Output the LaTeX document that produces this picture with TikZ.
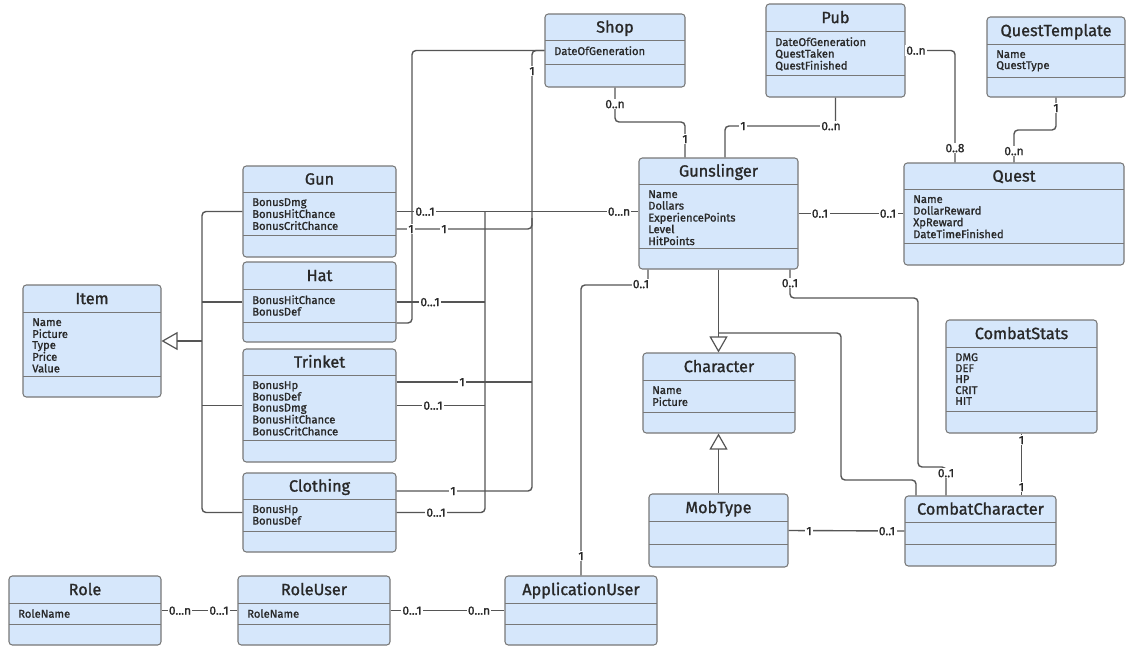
\documentclass[tikz,border=0pt]{standalone}
\usepackage{fontspec}
\setmainfont{Fira Sans}[FakeBold=1.2]
\usetikzlibrary{arrows.meta,fit}

\definecolor{boxfill}{RGB}{214,231,251}
\definecolor{boxline}{RGB}{120,120,120}
\definecolor{wire}{RGB}{85,85,85}
\definecolor{ink}{RGB}{40,40,40}

\tikzset{
  classbox/.style={draw=boxline, fill=boxfill, line width=0.8pt, rounded corners=2.5pt, inner sep=0pt},
  sepline/.style={draw=boxline, line width=0.7pt},
  classtitle/.style={text=ink, font=\fontsize{12.2}{13}\selectfont, inner sep=0pt, text height=8.4pt, text depth=0pt},
  attrtext/.style={text=ink, font=\fontsize{8.4}{8}\selectfont, inner sep=0pt, anchor=north west},
  conn/.style={draw=wire, line width=1.05pt, rounded corners=3pt},
  mult/.style={fill=white, text=ink, font=\fontsize{9}{9}\selectfont, inner sep=1pt, text height=6.2pt, text depth=0pt},
  genarrow/.style={-{Triangle[open, length=12pt, width=13.5pt, line width=0.9pt]}},
}

% \umlclass{name}{left}{top}{right}{title rule}{attribute rule}{bottom}{title}{attributes}
\newcommand{\umlclass}[9]{%
  \node[classbox, fit={(#2,#3) (#4,#7)}] (#1) {};
  \draw[sepline] (#2,#5) -- (#4,#5);
  \draw[sepline] (#2,#6) -- (#4,#6);
  \node[classtitle] (#1-title) at ({(#2+#4)/2},{(#3+#5)/2}) {#8};
  \node[attrtext] (#1-attrs) at ({#2+9},{#5+6}) {\begin{tabular}{@{}l@{}}#9\end{tabular}};
}

\begin{document}
\begin{tikzpicture}[x=0.75pt,y=-0.75pt]
\useasboundingbox (0,0) rectangle (1127,646);
\fill[white] (0,0) rectangle (1127,646);

% ---------- classes ----------
\umlclass{shop}{545}{14}{685}{40}{64}{87}{Shop}{DateOfGeneration}
\umlclass{pub}{766}{4}{905}{31}{75}{97}{Pub}{DateOfGeneration\\QuestTaken\\QuestFinished}
\umlclass{questtemplate}{987}{17}{1125}{44}{77}{97}{QuestTemplate}{Name\\QuestType}
\umlclass{gun}{243}{166}{396}{192}{235}{257}{Gun}{BonusDmg\\BonusHitChance\\BonusCritChance}
\umlclass{hat}{243}{262}{396}{289}{322}{342}{Hat}{BonusHitChance\\BonusDef}
\umlclass{item}{23}{285}{161}{312}{376}{397}{Item}{Name\\Picture\\Type\\Price\\Value}
\umlclass{trinket}{243}{349}{396}{375}{440}{462}{Trinket}{BonusHp\\BonusDef\\BonusDmg\\BonusHitChance\\BonusCritChance}
\umlclass{clothing}{243}{473}{396}{499}{531}{552}{Clothing}{BonusHp\\BonusDef}
\umlclass{role}{9}{576}{161}{603}{624}{645}{Role}{RoleName}
\umlclass{roleuser}{238}{576}{390}{603}{624}{645}{RoleUser}{RoleName}
\umlclass{appuser}{505}{576}{657}{603}{624}{645}{ApplicationUser}{}
\umlclass{gunslinger}{639}{158}{798}{184}{248}{269}{Gunslinger}{Name\\Dollars\\ExperiencePoints\\Level\\HitPoints}
\umlclass{quest}{904}{163}{1124}{189}{243}{265}{Quest}{Name\\DollarReward\\XpReward\\DateTimeFinished}
\umlclass{character}{643}{353}{795}{380}{412}{433}{Character}{Name\\Picture}
\umlclass{mobtype}{649}{494}{788}{521}{544}{567}{MobType}{}
\umlclass{combatchar}{905}{496}{1056}{522}{544}{566}{CombatCharacter}{}
\umlclass{combatstats}{946}{320}{1097}{347}{411}{433}{CombatStats}{DMG\\DEF\\HP\\CRIT\\HIT}

% ---------- item generalisation ----------
\coordinate (itembus) at (202,341);
\draw[conn] (gun.west) -| (itembus) |- (clothing.west);
\draw[conn] (hat.west) -- (hat.west -| itembus);
\draw[conn] (trinket.west) -- (trinket.west -| itembus);
\draw[conn, rounded corners=0pt, genarrow] (itembus) -- (item.east);

% ---------- shop ownership (multiplicity 1) ----------
\draw[conn] (shop.west) -- (412,50.5) -- (412,323) -- (hat.east |- 0,323);
\draw[conn] (shop.west) -- (532,50.5) -- (532,491) -- (clothing.east |- 0,491);
\draw[conn] (gun.east |- 0,229) -- (532,229) -- (532,218);
\draw[conn] (trinket.east |- 0,382) -- (532,382);
\node[mult] (m-shop1) at (532,71) {1};
\node[mult] (m-gun1a) at (411,229) {1};
\node[mult] (m-gun1b) at (444,229) {1};
\node[mult] (m-trk1) at (462,382) {1};
\node[mult] (m-clo1) at (453,491) {1};

% ---------- equipment of the gunslinger (0...1 / 0...n) ----------
\coordinate (gearbus) at (485,302);
\draw[conn] (gun.east) -- (gun.east -| gunslinger.west);
\draw[conn] (gun.east -| gearbus) |- (clothing.east);
\draw[conn] (hat.east) -- (hat.east -| gearbus);
\draw[conn] (trinket.east) -- (trinket.east -| gearbus);
\node[mult] (m-gun01) at (425,211.5) {0...1};
\node[mult] (m-hat01) at (430,302) {0...1};
\node[mult] (m-trk01) at (433,405.5) {0...1};
\node[mult] (m-clo01) at (436,512.5) {0...1};
\node[mult] (m-gsl0n) at (619,211.5) {0...n};

% ---------- shop / pub / quests ----------
\draw[conn] (shop.south) -- (615,122) -- (685,122) -- (685,0 |- gunslinger.north);
\node[mult] (m-shop0n) at (615,104) {0..n};
\node[mult] (m-gslshop) at (685,139) {1};

\draw[conn] (725,0 |- gunslinger.north) -- (725,126) -- (835.5,126) -- (pub.south);
\node[mult] (m-gslpub) at (743,126) {1};
\node[mult] (m-pub0n) at (831,126) {0..n};

\draw[conn] (pub.east) -- (955,50.5) -- (955,0 |- quest.north);
\node[mult] (m-pubq) at (916,50.5) {0..n};
\node[mult] (m-qpub) at (955,148) {0..8};

\draw[conn] (questtemplate.south) -- (1056,130) -- (1014,130) -- (quest.north);
\node[mult] (m-qt1) at (1056,108) {1};
\node[mult] (m-qt0n) at (1014,151) {0..n};

\draw[conn] (gunslinger.east) -- (gunslinger.east -| quest.west);
\node[mult] (m-gslq) at (820,213.5) {0..1};
\node[mult] (m-qgsl) at (888,213.5) {0..1};

% ---------- gunslinger below ----------
\draw[conn] (648,0 |- gunslinger.south) -- (648,285) -- (581,285) -- (appuser.north);
\node[mult] (m-gslau) at (641,284) {0..1};
\node[mult] (m-augsl) at (581,556) {1};

\draw[conn] (790,0 |- gunslinger.south) -- (790,298) -- (918,298) -- (918,467) -- (946,467) -- (946,0 |- combatchar.north);
\node[mult] (m-gslcc) at (790,283) {0..1};
\node[mult] (m-ccgsl) at (946,473) {0..1};

\draw[conn, rounded corners=0pt, genarrow] (gunslinger.south) -- (gunslinger.south |- character.north);
\draw[conn] (916,0 |- combatchar.north) -- (916,480) -- (841,480) -- (841,333) -- (718.5,333);
\draw[conn, rounded corners=0pt, genarrow] (mobtype.north) -- (mobtype.north |- character.south);

\draw[conn] (mobtype.east) -- (combatchar.west);
\node[mult] (m-mob1) at (809,531) {1};
\node[mult] (m-ccmob) at (887,531) {0..1};

\draw[conn] (combatstats.south) -- (combatstats.south |- combatchar.north);
\node[mult] (m-cs1) at (1021.5,440) {1};
\node[mult] (m-cscc) at (1021.5,487) {1};

% ---------- users and roles ----------
\draw[conn] (role.east) -- (roleuser.west);
\node[mult] (m-role0n) at (180,610.5) {0...n};
\node[mult] (m-ru01) at (219,610.5) {0...1};

\draw[conn] (roleuser.east) -- (appuser.west);
\node[mult] (m-ru01b) at (412,610.5) {0...1};
\node[mult] (m-au0n) at (479,610.5) {0...n};

\end{tikzpicture}
\end{document}
